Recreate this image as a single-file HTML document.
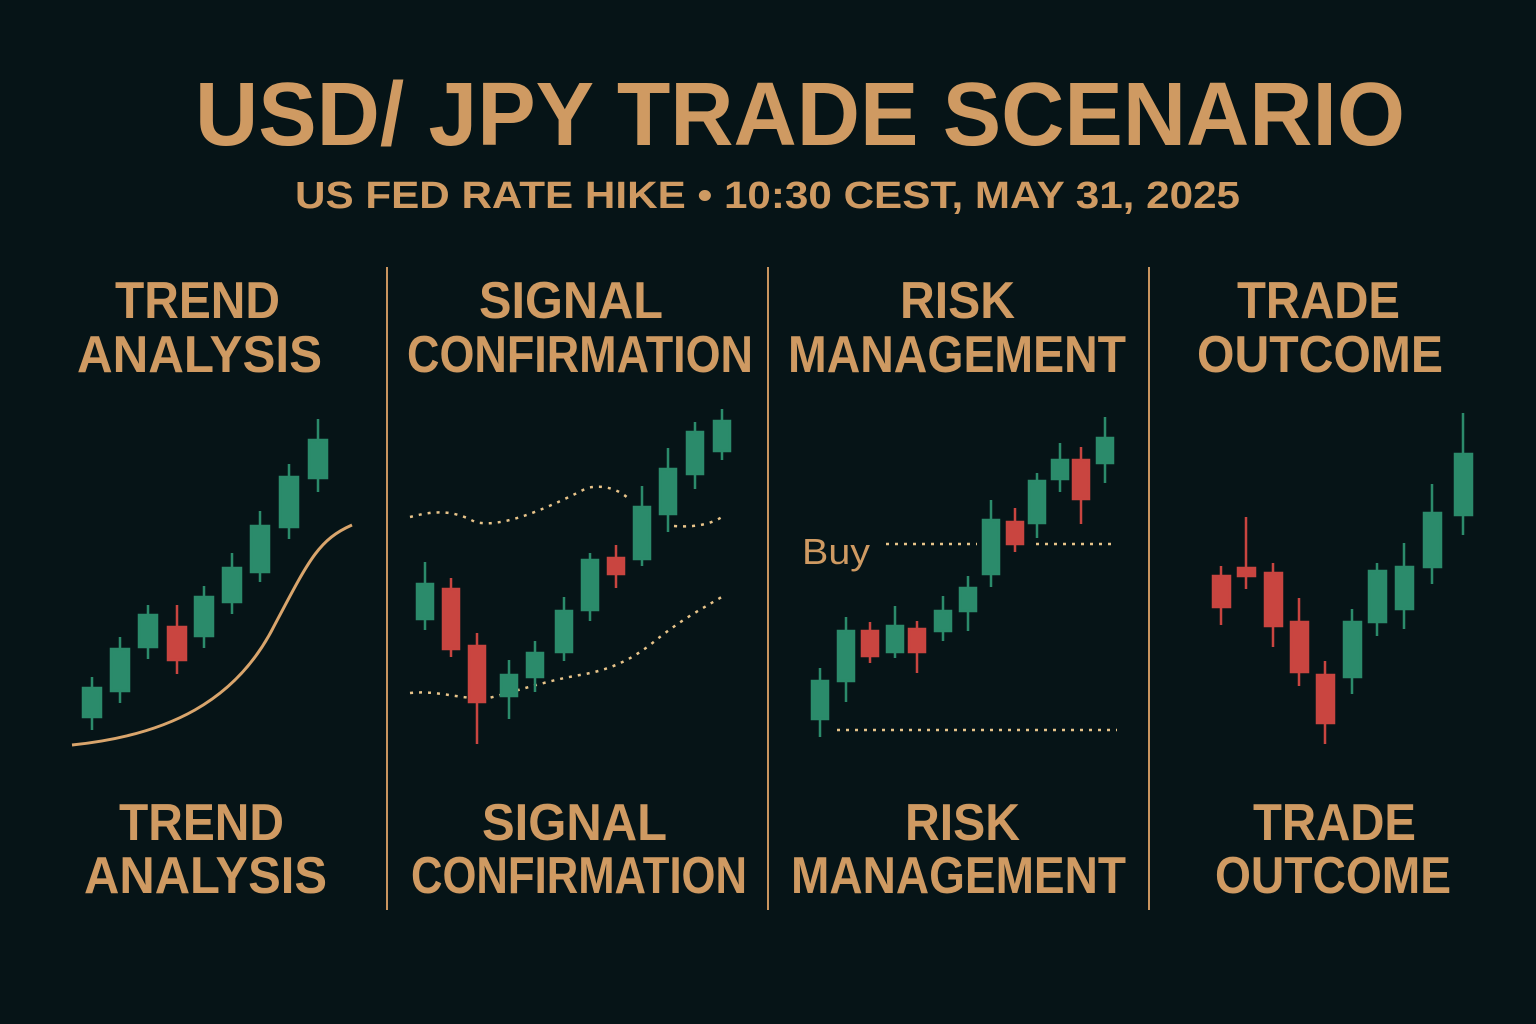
<!DOCTYPE html>
<html><head><meta charset="utf-8"><style>
html,body{margin:0;padding:0;background:#061417;}
svg{display:block}
text{font-family:"Liberation Sans",sans-serif;font-weight:bold;fill:#cf9a62}
</style></head><body>
<svg width="1536" height="1024" viewBox="0 0 1536 1024" xmlns="http://www.w3.org/2000/svg">
<rect width="1536" height="1024" fill="#061417"/>
<text x="195" y="145" font-size="90" textLength="1210" lengthAdjust="spacingAndGlyphs">USD/ JPY TRADE SCENARIO</text>
<text x="295" y="208" font-size="38" textLength="945" lengthAdjust="spacingAndGlyphs">US FED RATE HIKE • 10:30 CEST, MAY 31, 2025</text>
<g font-size="52">
<text x="115" y="318" textLength="165" lengthAdjust="spacingAndGlyphs">TREND</text>
<text x="77" y="372" textLength="245" lengthAdjust="spacingAndGlyphs">ANALYSIS</text>
<text x="479" y="318" textLength="184" lengthAdjust="spacingAndGlyphs">SIGNAL</text>
<text x="407" y="372" textLength="346" lengthAdjust="spacingAndGlyphs">CONFIRMATION</text>
<text x="900" y="318" textLength="115" lengthAdjust="spacingAndGlyphs">RISK</text>
<text x="788" y="372" textLength="338" lengthAdjust="spacingAndGlyphs">MANAGEMENT</text>
<text x="1237" y="318" textLength="163" lengthAdjust="spacingAndGlyphs">TRADE</text>
<text x="1197" y="372" textLength="246" lengthAdjust="spacingAndGlyphs">OUTCOME</text>
<text x="119" y="840" textLength="165" lengthAdjust="spacingAndGlyphs">TREND</text>
<text x="84" y="893" textLength="243" lengthAdjust="spacingAndGlyphs">ANALYSIS</text>
<text x="482" y="840" textLength="185" lengthAdjust="spacingAndGlyphs">SIGNAL</text>
<text x="411" y="893" textLength="336" lengthAdjust="spacingAndGlyphs">CONFIRMATION</text>
<text x="905" y="840" textLength="115" lengthAdjust="spacingAndGlyphs">RISK</text>
<text x="791" y="893" textLength="335" lengthAdjust="spacingAndGlyphs">MANAGEMENT</text>
<text x="1253" y="840" textLength="163" lengthAdjust="spacingAndGlyphs">TRADE</text>
<text x="1215" y="893" textLength="236" lengthAdjust="spacingAndGlyphs">OUTCOME</text>
</g>
<g stroke="#c9955f" stroke-width="2">
<line x1="387" y1="267" x2="387" y2="910"/>
<line x1="768" y1="267" x2="768" y2="910"/>
<line x1="1149" y1="267" x2="1149" y2="910"/>
</g>
<!-- panel 1 curve -->
<path d="M72 745 C 170 735, 235 700, 272 630 S 318 540, 352 525" fill="none" stroke="#d9a56c" stroke-width="3"/>
<!-- dotted bands -->
<g fill="none" stroke="#e8c48a" stroke-width="2.5" stroke-dasharray="3 6">
<path d="M410 517 C 430 512, 450 508, 475 522 C 500 528, 540 512, 587 488 C 605 484, 620 490, 630 500"/>
<path d="M674 526 C 700 528, 715 522, 725 515"/>
<path d="M410 693 C 440 690, 460 700, 489 698 C 520 690, 550 680, 580 675 C 610 670, 630 660, 650 645 C 680 620, 700 610, 725 595"/>
<path d="M886 544 H977 M1036 544 H1117 M837 730 H1117"/>
</g>
<text x="802" y="564" font-size="36" font-weight="normal" style="font-weight:normal" textLength="68" lengthAdjust="spacingAndGlyphs">Buy</text>
<g id="c" stroke-width="2">
<!-- helper: each candle as wick line + body rect -->
</g>
<g>
<!-- green -->
<g fill="#2b8b6b" stroke="#2b8b6b" stroke-width="2.5">
<!-- panel1 -->
<line x1="92" y1="677" x2="92" y2="730"/><rect x="83" y="688" width="18" height="29"/>
<line x1="120" y1="637" x2="120" y2="703"/><rect x="111" y="649" width="18" height="42"/>
<line x1="148" y1="605" x2="148" y2="659"/><rect x="139" y="615" width="18" height="32"/>
<line x1="204" y1="586" x2="204" y2="648"/><rect x="195" y="597" width="18" height="39"/>
<line x1="232" y1="553" x2="232" y2="614"/><rect x="223" y="568" width="18" height="34"/>
<line x1="260" y1="511" x2="260" y2="582"/><rect x="251" y="526" width="18" height="46"/>
<line x1="289" y1="464" x2="289" y2="539"/><rect x="280" y="477" width="18" height="50"/>
<line x1="318" y1="419" x2="318" y2="492"/><rect x="309" y="440" width="18" height="38"/>
<!-- panel2 -->
<line x1="425" y1="562" x2="425" y2="630"/><rect x="417" y="584" width="16" height="35"/>
<line x1="509" y1="660" x2="509" y2="719"/><rect x="501" y="675" width="16" height="21"/>
<line x1="535" y1="641" x2="535" y2="692"/><rect x="527" y="653" width="16" height="24"/>
<line x1="564" y1="597" x2="564" y2="661"/><rect x="556" y="611" width="16" height="41"/>
<line x1="590" y1="553" x2="590" y2="621"/><rect x="582" y="560" width="16" height="50"/>
<line x1="642" y1="486" x2="642" y2="566"/><rect x="634" y="507" width="16" height="52"/>
<line x1="668" y1="448" x2="668" y2="532"/><rect x="660" y="469" width="16" height="45"/>
<line x1="695" y1="422" x2="695" y2="489"/><rect x="687" y="432" width="16" height="42"/>
<line x1="722" y1="409" x2="722" y2="460"/><rect x="714" y="421" width="16" height="30"/>
<!-- panel3 -->
<line x1="820" y1="668" x2="820" y2="737"/><rect x="812" y="681" width="16" height="38"/>
<line x1="846" y1="617" x2="846" y2="702"/><rect x="838" y="631" width="16" height="50"/>
<line x1="895" y1="606" x2="895" y2="658"/><rect x="887" y="626" width="16" height="26"/>
<line x1="943" y1="596" x2="943" y2="641"/><rect x="935" y="611" width="16" height="20"/>
<line x1="968" y1="576" x2="968" y2="631"/><rect x="960" y="588" width="16" height="23"/>
<line x1="991" y1="500" x2="991" y2="587"/><rect x="983" y="520" width="16" height="54"/>
<line x1="1037" y1="473" x2="1037" y2="538"/><rect x="1029" y="481" width="16" height="42"/>
<line x1="1060" y1="443" x2="1060" y2="492"/><rect x="1052" y="460" width="16" height="19"/>
<line x1="1105" y1="417" x2="1105" y2="483"/><rect x="1097" y="438" width="16" height="25"/>
<!-- panel4 -->
<line x1="1352" y1="609" x2="1352" y2="694"/><rect x="1344" y="622" width="17" height="55"/>
<line x1="1377" y1="563" x2="1377" y2="636"/><rect x="1369" y="571" width="17" height="51"/>
<line x1="1404" y1="543" x2="1404" y2="629"/><rect x="1396" y="567" width="17" height="42"/>
<line x1="1432" y1="484" x2="1432" y2="584"/><rect x="1424" y="513" width="17" height="54"/>
<line x1="1463" y1="413" x2="1463" y2="535"/><rect x="1455" y="454" width="17" height="61"/>
</g>
<!-- red -->
<g fill="#c94540" stroke="#c94540" stroke-width="2.5">
<line x1="177" y1="605" x2="177" y2="674"/><rect x="168" y="627" width="18" height="33"/>
<line x1="451" y1="578" x2="451" y2="657"/><rect x="443" y="589" width="16" height="60"/>
<line x1="477" y1="633" x2="477" y2="744"/><rect x="469" y="646" width="16" height="56"/>
<line x1="616" y1="545" x2="616" y2="588"/><rect x="608" y="558" width="16" height="16"/>
<line x1="870" y1="622" x2="870" y2="663"/><rect x="862" y="631" width="16" height="25"/>
<line x1="917" y1="621" x2="917" y2="673"/><rect x="909" y="629" width="16" height="23"/>
<line x1="1015" y1="508" x2="1015" y2="552"/><rect x="1007" y="522" width="16" height="22"/>
<line x1="1081" y1="447" x2="1081" y2="524"/><rect x="1073" y="460" width="16" height="39"/>
<line x1="1221" y1="566" x2="1221" y2="625"/><rect x="1213" y="576" width="17" height="31"/>
<line x1="1246" y1="517" x2="1246" y2="589"/><rect x="1238" y="568" width="17" height="8"/>
<line x1="1273" y1="563" x2="1273" y2="647"/><rect x="1265" y="573" width="17" height="53"/>
<line x1="1299" y1="598" x2="1299" y2="686"/><rect x="1291" y="622" width="17" height="50"/>
<line x1="1325" y1="661" x2="1325" y2="744"/><rect x="1317" y="675" width="17" height="48"/>
</g>
</g>
</svg>
</body></html>
